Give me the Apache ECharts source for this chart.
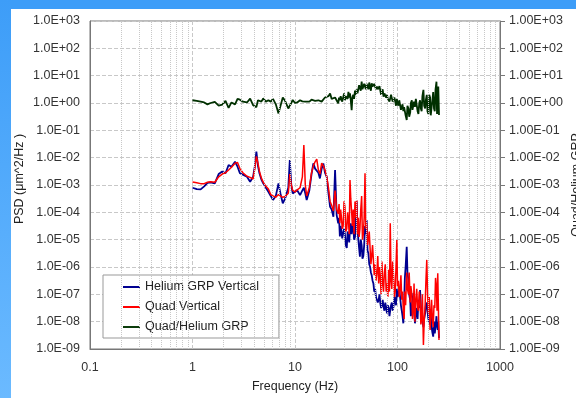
<!DOCTYPE html>
<html>
<head>
<meta charset="utf-8">
<script src="https://cdn.jsdelivr.net/npm/echarts@6/dist/echarts.min.js"></script>
<style>
  html, body { margin: 0; padding: 0; background: #fff; }
  #chart { width: 576px; height: 398px; }
</style>
</head>
<body>
<div id="chart"></div>
<script>
// frequency points (Hz)
var freq = [1.0, 1.1, 1.2, 1.3, 1.4, 1.5, 1.65, 1.8, 1.95, 2.1, 2.25, 2.4, 2.6, 2.75, 2.9, 3.1, 3.4, 3.65, 3.9, 4.05,
    4.2, 4.35, 4.5, 4.7, 4.9, 5.2, 5.5, 5.8, 6.1, 6.5, 6.9, 7.2, 7.6, 8.0, 8.3, 8.6, 8.9, 9.2, 9.5, 10.0,
    10.5, 11.2, 11.8, 12.2, 12.6, 13.0, 13.8, 14.5, 15.1, 15.7, 16.3, 16.9, 17.5, 18.2, 18.9, 19.6, 20.4, 21.2, 22.0, 22.8,
    23.7, 24.6, 25.5,
    26.4, 26.9, 27.4, 27.9, 28.4, 28.9, 29.5, 30.1, 30.7, 31.3, 32.0, 32.6, 33.2, 33.8, 34.4, 35.0, 35.7, 36.3, 37.0, 37.7,
    38.5, 39.2, 40.0, 40.7, 41.5, 42.2, 43.0, 43.8, 44.7, 45.5, 46.4, 47.3, 48.2, 49.1, 50.0, 51.0, 52.0, 53.0, 54.0, 55.0,
    56.0, 57.1, 58.2, 59.3, 60.5, 61.7, 63.0, 64.2, 65.5, 66.7, 68.0, 69.2, 70.5, 71.7, 73.0, 74.5, 76.0, 77.5, 79.0, 80.5,
    82.0, 83.5, 85.0, 86.5, 88.0, 89.7, 91.5, 93.2, 95.0, 96.7, 98.5, 100, 102, 104, 106, 108, 110, 112, 114, 116,
    118, 120, 123, 125, 128, 130, 133, 135, 138, 140, 143, 145, 148, 151, 154, 157, 160, 163, 166, 169,
    172, 175, 179, 182, 186, 189, 193, 196, 200, 204, 208, 211, 215, 219, 223, 227, 231, 235, 240, 243,
    247, 250, 254];

// log10 of PSD, Helium GRP Vertical
var heliumExp = [-3.10, -3.15, -3.16, -3.05, -2.92, -2.90, -2.94, -2.60, -2.51, -2.57, -2.27, -2.33, -2.15, -2.33, -2.57, -2.62, -2.70, -2.88, -2.70, -2.33,
    -1.78, -2.30, -2.57, -2.80, -2.94, -3.10, -3.25, -3.40, -3.55, -3.40, -2.94, -3.30, -3.67, -3.50, -3.43, -3.10, -2.09, -3.00, -3.31, -3.25,
    -3.19, -3.37, -3.20, -3.10, -3.30, -3.55, -3.20, -2.60, -2.21, -2.40, -2.33, -2.55, -2.76, -2.40, -2.21, -2.55, -2.70, -3.30, -3.80, -3.90,
    -4.16, -2.45, -4.10,
    -4.40, -4.20, -4.88, -4.50, -4.70, -4.95, -5.01, -4.60, -4.80, -5.20, -5.30, -4.70, -4.90, -5.10, -4.60, -4.40, -4.80, -4.50, -4.40, -5.00,
    -4.90, -4.30, -3.60, -4.60, -5.00, -5.30, -5.62, -5.00, -5.20, -5.70, -5.60, -5.20, -4.50, -4.80, -4.28, -5.40, -5.50, -5.90, -5.99, -6.20,
    -6.30, -6.50, -6.60, -6.90, -6.80, -7.10, -7.09, -7.30, -7.20, -7.00, -7.33, -7.50, -7.40, -7.20, -7.45, -7.60, -7.30, -7.50, -7.70, -7.40,
    -7.50, -7.80, -7.57, -7.40, -7.30, -7.60, -7.45, -7.10, -7.20, -7.40, -6.80, -7.10, -7.00, -6.80, -7.09, -7.40, -7.60, -7.80, -8.06, -7.30,
    -6.40, -6.00, -5.26, -6.20, -6.50, -7.00, -7.21, -7.80, -7.60, -7.20, -6.96, -7.60, -8.06, -7.70, -7.50, -7.90, -7.20, -7.50, -6.84, -7.40,
    -7.80, -8.00, -8.20, -7.90, -7.70, -7.40, -7.30, -7.60, -7.90, -8.00, -8.10, -7.70, -8.18, -8.40, -8.55, -8.00, -8.43, -8.20, -7.80, -8.10,
    -8.30, -8.00, -8.60];

// log10 of PSD, Quad Vertical
var quadExp = [-2.89, -2.92, -2.95, -2.95, -2.90, -2.88, -2.90, -2.70, -2.60, -2.55, -2.45, -2.35, -2.20, -2.18, -2.40, -2.55, -2.68, -2.72, -2.78, -2.40,
    -1.95, -2.20, -2.50, -2.75, -2.90, -3.05, -3.15, -3.35, -3.40, -3.45, -3.35, -3.40, -3.45, -3.42, -3.40, -3.30, -2.60, -3.00, -3.20, -3.25,
    -3.18, -3.10, -2.70, -1.54, -3.00, -3.40, -3.10, -2.55, -2.30, -2.15, -2.05, -2.45, -2.60, -2.20, -2.30, -2.45, -2.70, -3.10, -3.60, -3.75,
    -3.95, -3.20, -3.90,
    -4.05, -3.70, -4.40, -3.90, -4.20, -4.60, -4.50, -3.60, -3.80, -4.70, -4.60, -4.00, -4.30, -4.80, -2.82, -3.50, -4.00, -4.50, -3.90, -4.80,
    -3.60, -4.20, -3.55, -4.80, -4.20, -4.90, -4.60, -3.90, -3.40, -5.00, -4.80, -4.20, -2.57, -4.60, -4.40, -5.20, -5.00, -4.70, -5.30, -5.90,
    -5.60, -5.20, -5.75, -6.30, -5.90, -6.50, -6.20, -5.60, -6.60, -6.00, -6.40, -7.00, -5.80, -6.60, -6.90, -6.20, -5.90, -6.90, -6.60, -7.10,
    -6.10, -6.90, -4.40, -6.50, -6.80, -5.80, -6.30, -7.10, -6.90, -6.00, -5.01, -6.70, -6.50, -7.10, -6.80, -6.30, -7.20, -6.90, -7.60, -7.90,
    -6.90, -7.40, -6.20, -6.80, -7.00, -6.20, -7.30, -6.70, -7.00, -7.90, -7.60, -6.60, -8.00, -7.20, -6.80, -7.50, -7.60, -6.90, -7.20, -8.10,
    -7.90, -7.00, -8.85, -8.00, -7.40, -6.60, -5.74, -6.80, -7.70, -7.10, -8.30, -7.80, -7.20, -7.90, -8.20, -7.40, -7.50, -6.40, -6.80, -7.60,
    -6.23, -7.30, -8.67];

// log10 of ratio, Quad/Helium GRP
var ratioExp = [0.10, 0.08, 0.05, 0.02, -0.05, 0.00, 0.04, -0.10, -0.06, 0.08, -0.18, 0.02, -0.05, 0.15, 0.12, 0.05, 0.02, 0.16, -0.08, -0.05,
    -0.15, 0.10, 0.08, 0.05, 0.17, 0.05, 0.10, 0.05, 0.15, -0.05, -0.38, -0.12, 0.20, 0.08, 0.03, -0.20, -0.26, 0.00, 0.11, 0.00,
    0.02, 0.10, 0.06, 0.08, 0.05, 0.10, 0.05, 0.12, 0.05, 0.08, 0.05, 0.10, 0.15, 0.05, 0.12, 0.20, 0.18, 0.25, 0.35, 0.15,
    0.10, 0.20, 0.25,
    -0.01, 0.20, 0.10, 0.25, 0.15, 0.05, 0.20, 0.35, 0.10, 0.25, 0.30, 0.15, 0.41, 0.20, 0.35, 0.10, -0.26, 0.20, 0.30, 0.15,
    0.45, 0.30, 0.50, 0.35, 0.40, 0.65, 0.60, 0.45, 0.78, 0.50, 0.55, 0.70, 0.65, 0.50, 0.70, 0.60, 0.50, 0.75, 0.60, 0.45,
    0.72, 0.60, 0.55, 0.70, 0.65, 0.50, 0.60, 0.50, 0.45, 0.62, 0.55, 0.30, 0.35, 0.50, 0.23, 0.35, 0.40, 0.20, 0.30, 0.15,
    0.20, 0.05, 0.11, 0.30, 0.25, 0.05, 0.10, 0.20, 0.05, -0.10, 0.15, 0.00, -0.10, 0.10, -0.07, -0.25, -0.20, -0.05, -0.30, -0.15,
    -0.10, -0.45, -0.62, -0.10, -0.20, -0.50, -0.35, 0.00, 0.10, -0.25, -0.30, 0.05, -0.14, 0.15, 0.20, -0.30, -0.40, 0.00, 0.10, -0.20,
    -0.30, 0.25, 0.48, -0.10, -0.20, 0.10, 0.30, -0.30, -0.40, 0.30, 0.20, -0.45, -0.50, 0.10, 0.40, -0.20, -0.30, 0.50, 0.78, -0.40,
    -0.20, 0.60, -0.44];

var seriesNames = ['Helium GRP Vertical', 'Quad Vertical', 'Quad/Helium GRP'];
var decades = [0.1, 1, 10, 100];

var font = 'Liberation Sans, Arial, sans-serif';

function toPairs(exps) {
    return freq.map(function (f, i) {
        return [f, Math.pow(10, exps[i])];
    });
}

// minor grid lines at 2..9 of each decade
var minorX = [];
decades.forEach(function (d) {
    for (var k = 2; k <= 9; k++) {
        minorX.push({ xAxis: +(d * k).toPrecision(3) });
    }
});

function sciLabel(v, digits) {
    var e = Math.round(Math.log10(v));
    var s = Math.abs(e) < 10 ? '0' + Math.abs(e) : '' + Math.abs(e);
    return '1.' + digits + 'E' + (e < 0 ? '-' : '+') + s;
}

var chart = echarts.init(document.getElementById('chart'));

var option = {
    animation: false,
    backgroundColor: '#fff',
    graphic: [
        { type: 'rect', shape: { x: 0, y: 0, width: 576, height: 9 }, style: { fill: '#3d9df8' }, z: 100 },
        {
            type: 'rect', shape: { x: 0, y: 0, width: 11, height: 398 }, z: 100,
            style: {
                fill: new echarts.graphic.LinearGradient(0, 0, 0, 1, [
                    { offset: 0, color: '#3d9df8' },
                    { offset: 1, color: '#6bbaff' }
                ])
            }
        }
    ],
    grid: {
        left: 90, top: 21, right: 76, bottom: 49,
        outerBoundsMode: 'none',
        containLabel: false,
        show: true, borderColor: '#777', borderWidth: 1, backgroundColor: '#fff'
    },
    legend: {
        data: seriesNames,
        orient: 'vertical',
        left: 103, top: 275,
        icon: 'rect',
        itemWidth: 17, itemHeight: 2, itemGap: 6,
        padding: [5, 20, 4, 20],
        borderColor: '#999', borderWidth: 1,
        backgroundColor: '#fff',
        textStyle: { fontFamily: font, fontSize: 12.5, color: '#222', lineHeight: 14 }
    },
    xAxis: {
        type: 'log', logBase: 10, min: 0.1, max: 1000, interval: 1,
        name: 'Frequency (Hz)', nameLocation: 'middle', nameGap: 31,
        nameTextStyle: { fontFamily: font, fontSize: 12.5, color: '#222' },
        axisLine: { lineStyle: { color: '#777' } },
        axisTick: { show: false },
        axisLabel: {
            fontFamily: font, fontSize: 12.5, color: '#333', margin: 12,
            formatter: function (v) {
                var e = Math.round(Math.log10(v));
                return e < 0 ? '0.1' : String(Math.pow(10, e));
            }
        },
        splitLine: { show: true, lineStyle: { color: '#c8c8c8', type: 'dashed' } }
    },
    yAxis: [{
        type: 'log', logBase: 10, min: 1e-9, max: 1e3, interval: 1,
        position: 'left',
        name: 'PSD (μm^2/Hz )', nameLocation: 'middle', nameGap: 64, nameRotate: 90,
        nameMoveOverlap: false,
        nameTextStyle: { fontFamily: font, fontSize: 12.5, color: '#222', padding: [0, 0, 0, 12] },
        axisLine: { show: true, lineStyle: { color: '#777' } },
        axisTick: { show: false },
        axisLabel: {
            fontFamily: font, fontSize: 12.5, color: '#333', margin: 10,
            formatter: function (v) { return sciLabel(v, '0'); }
        },
        splitLine: { show: true, lineStyle: { color: '#c8c8c8', type: 'dashed' } }
    }, {
        type: 'log', logBase: 10, min: 1e-9, max: 1e3, interval: 1,
        position: 'right',
        name: 'Quad/Helium GRP', nameLocation: 'middle', nameGap: 70, nameRotate: 90,
        nameMoveOverlap: false,
        nameTextStyle: { fontFamily: font, fontSize: 12.5, color: '#222' },
        axisLine: { show: true, lineStyle: { color: '#777' } },
        axisTick: { show: true, inside: false, length: 5, lineStyle: { color: '#777' } },
        axisLabel: {
            fontFamily: font, fontSize: 12.5, color: '#333', margin: 9,
            formatter: function (v) { return sciLabel(v, '00'); }
        },
        splitLine: { show: false }
    }],
    series: [{
        name: 'grid-minor',
        type: 'line',
        data: [[1, 1e-9]],
        symbol: 'none',
        lineStyle: { opacity: 0 },
        z: 1,
        silent: true,
        markLine: {
            silent: true, symbol: 'none',
            label: { show: false },
            lineStyle: { color: '#c8c8c8', type: 'dotted', width: 1 },
            data: minorX
        }
    }, {
        name: seriesNames[0],
        type: 'line',
        data: toPairs(heliumExp),
        showSymbol: false, symbol: 'none',
        color: '#000090',
        lineStyle: { width: 1.8, color: '#000090' },
        z: 3
    }, {
        name: seriesNames[1],
        type: 'line',
        data: toPairs(quadExp),
        showSymbol: false, symbol: 'none',
        color: '#ff0000',
        lineStyle: { width: 1.5, color: '#ff0000' },
        z: 4
    }, {
        name: seriesNames[2],
        type: 'line',
        yAxisIndex: 1,
        data: toPairs(ratioExp),
        showSymbol: false, symbol: 'none',
        color: '#0c3d0c',
        lineStyle: { width: 1.8, color: '#003000' },
        z: 4
    }]
};

chart.setOption(option);
</script>
</body>
</html>
